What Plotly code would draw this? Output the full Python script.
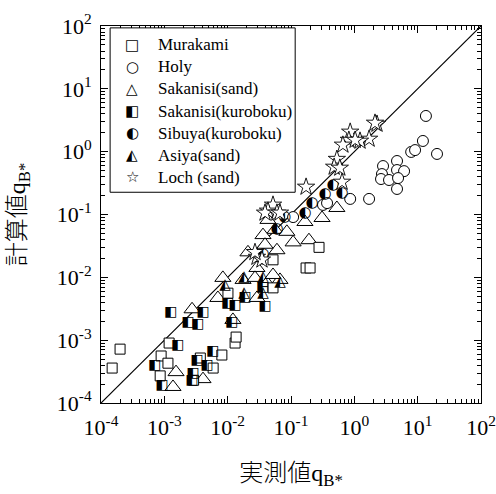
import plotly.graph_objects as go

# Measured (実測値) and computed (計算値) dimensionless bed-load rate q_B*
murakami_x = [1.5e-4, 2.0e-4, 8.6e-4, 8.9e-4, 1.14e-3, 1.19e-3, 3.7e-3, 5.9e-3, 8.1e-3,
              1.31e-2, 1.36e-2, 1.01e-2, 5.2e-2, 0.173, 0.20, 0.277, 2.9e-3, 0.052]
murakami_y = [3.6e-4, 7.2e-4, 2.7e-4, 5.6e-4, 4.3e-4, 9.0e-4, 5.2e-4, 3.6e-4, 5.8e-4,
              9.0e-4, 1.12e-3, 5.6e-3, 6.8e-3, 0.0141, 0.0141, 0.030, 2.3e-4, 0.019]

holy_x = [13.5, 12.1, 20.2, 7.9, 9.1, 2.84, 2.73, 2.64, 3.53, 4.72, 4.72, 6.1, 4.9, 4.72,
          1.71, 0.86, 0.32, 0.371, 0.108]
holy_y = [3.7, 1.48, 0.92, 0.99, 1.06, 0.59, 0.44, 0.367, 0.354, 0.71, 0.51, 0.49, 0.38,
          0.255, 0.177, 0.177, 0.142, 0.152, 0.091]

sak_sand_x = [0.53, 0.309, 0.166, 0.108, 0.192, 4.33e-2, 5.6e-2, 8.6e-2, 3.61e-2, 6.0e-2,
              2.09e-2, 2.9e-2, 1.75e-2, 8.4e-3, 2.7e-2, 4.18e-2, 6.7e-2, 5.2e-2, 2.74e-3,
              1.53e-3, 4.08e-3, 1.37e-3, 1.21e-2, 7.0e-3, 2.9e-2, 3.89e-2]
sak_sand_y = [0.127, 0.088, 0.076, 0.036, 0.039, 0.082, 0.057, 0.053, 0.047, 0.027,
              0.025, 0.0141, 0.0091, 0.0098, 0.0098, 0.0081, 0.0091, 0.0109, 0.0031,
              3.1e-4, 2.4e-4, 1.8e-4, 0.0021, 0.0047, 0.0047, 0.033]

sak_kuro_x = [1.27e-3, 4.08e-3, 2.37e-3, 3.4e-3, 1.64e-3, 7.1e-4, 9.2e-4, 3.28e-3, 2.84e-3,
              2.74e-3, 4.72e-3, 5.86e-3, 1.17e-2, 1.01e-2, 1.31e-2, 1.88e-2, 3.89e-2, 3.6e-2]
sak_kuro_y = [0.0028, 0.0028, 0.0019, 0.0018, 8.1e-4, 4.0e-4, 1.9e-4, 4.8e-4, 2.9e-4,
              2.3e-4, 3.9e-4, 6.7e-4, 0.0019, 0.0039, 0.0036, 0.0047, 0.0034, 0.0068]

sibuya_x = [3.61e-2, 6.0e-2, 8.0e-2, 0.166, 0.215, 0.344, 0.46, 0.64]
sibuya_y = [0.023, 0.059, 0.091, 0.106, 0.152, 0.212, 0.294, 0.22]

asiya_x = [9.1e-3, 1.81e-2, 3.61e-2, 6.7e-2, 1.81e-2, 3.61e-2]
asiya_y = [0.0076, 0.0101, 0.0101, 0.0084, 0.0056, 0.0056]

loch_x = [2.28, 2.12, 1.71, 0.86, 0.82, 0.66, 1.23, 1.03, 0.53, 0.48, 0.59, 0.64, 0.173,
          5.2e-2, 4.33e-2, 3.89e-2, 6.0e-2, 6.7e-2, 2.9e-2, 3.48e-2, 2.7e-2]
loch_y = [2.75, 2.86, 1.59, 2.06, 1.53, 1.28, 1.48, 1.53, 0.76, 0.57, 0.55, 0.329, 0.274,
          0.142, 0.114, 0.106, 0.106, 0.106, 0.021, 0.019, 0.025]

legend_names = ["Murakami", "Holy", "Sakanisi(sand)", "Sakanisi(kuroboku)",
                "Sibuya(kuroboku)", "Asiya(sand)", "Loch (sand)"]
legend_glyphs = ["□", "○", "△", "◧", "◐", "◭", "☆"]

tick_vals = [1e-4, 1e-3, 1e-2, 1e-1, 1e0, 1e1, 1e2]
tick_text = ["10<sup>-4</sup>", "10<sup>-3</sup>", "10<sup>-2</sup>", "10<sup>-1</sup>",
             "10<sup>0</sup>", "10<sup>1</sup>", "10<sup>2</sup>"]
line_range = [1e-4, 1e2]

SERIF = "Liberation Serif"
TITLE_FONT = "Liberation Serif, Noto Sans CJK JP"
GLYPH = "DejaVu Sans"

fig = go.Figure()

# perfect-agreement line
fig.add_trace(go.Scatter(x=line_range, y=line_range, mode="lines",
                         line=dict(color="black", width=1.2), hoverinfo="skip"))

def open_marker(x, y, symbol, size, width=1):
    fig.add_trace(go.Scatter(
        x=x, y=y, mode="markers",
        marker=dict(symbol=symbol, size=size, color="white",
                    line=dict(color="black", width=width))))

def glyph_marker(x, y, glyph, size):
    fig.add_trace(go.Scatter(
        x=x, y=y, mode="text", text=[glyph] * len(x), textposition="middle center",
        textfont=dict(family=GLYPH, size=size, color="black")))

open_marker(sak_sand_x, sak_sand_y, "triangle-up", 14)
open_marker(murakami_x, murakami_y, "square", 10)
open_marker(holy_x, holy_y, "circle", 11)
glyph_marker(sak_kuro_x, sak_kuro_y, "◧", 14)
glyph_marker(asiya_x, asiya_y, "◭", 15)
glyph_marker(sibuya_x, sibuya_y, "◐", 15)
open_marker(loch_x, loch_y, "star", 13, 0.9)

# legend box
fig.add_shape(type="rect", xref="paper", yref="paper",
              x0=0.024, x1=0.511, y0=0.559, y1=0.995,
              line=dict(color="black", width=1), fillcolor="white", layer="above")
row_top = 0.95
row_step = 0.0585
for i, (g, name) in enumerate(zip(legend_glyphs, legend_names)):
    yy = row_top - i * row_step
    fig.add_annotation(xref="paper", yref="paper", x=0.082, y=yy, text=g,
                       showarrow=False, xanchor="center", yanchor="middle",
                       font=dict(family=GLYPH, size=15, color="black"))
    fig.add_annotation(xref="paper", yref="paper", x=0.145, y=yy, text=name,
                       showarrow=False, xanchor="left", yanchor="middle",
                       font=dict(family=SERIF, size=17, color="black"))

axis_common = dict(
    type="log", range=[-4, 2], tickmode="array", tickvals=tick_vals, ticktext=tick_text,
    ticks="inside", ticklen=7, tickcolor="black", tickwidth=1,
    showline=True, linecolor="black", linewidth=1, mirror="allticks",
    showgrid=False, zeroline=False, ticklabeloverflow="allow", automargin=False,
    tickfont=dict(family=SERIF, size=22, color="black"),
    minor=dict(ticks="inside", ticklen=4, tickcolor="black", dtick="D1", showgrid=False),
)

fig.update_layout(
    width=496, height=494,
    margin=dict(l=101, r=15, t=26, b=91),
    paper_bgcolor="white", plot_bgcolor="white",
    showlegend=False,
    xaxis=dict(**axis_common, ticklabelstandoff=5,
               title=dict(text="実測値q<sub>B*</sub>", standoff=24,
                          font=dict(family=TITLE_FONT, size=24, color="black", weight=300))),
    yaxis=dict(**axis_common, ticklabelstandoff=4,
               title=dict(text="計算値q<sub>B*</sub>", standoff=24,
                          font=dict(family=TITLE_FONT, size=24, color="black", weight=300))),
)

fig.write_html("out.html")
